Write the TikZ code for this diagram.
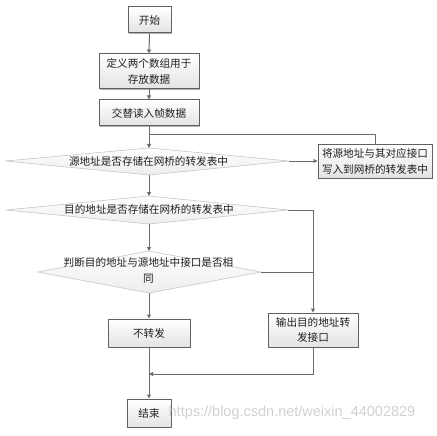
\documentclass[tikz,border=0pt]{standalone}
\usepackage{fontspec}
\newfontfamily\cjk{Noto Sans CJK SC}
\newfontfamily\wmfont{Liberation Sans}
\usetikzlibrary{arrows.meta,calc}
\begin{document}
\begin{tikzpicture}[x=1pt,y=1pt,
  every node/.style={font=\cjk\fontsize{10.6}{15.5}\selectfont, text=black!88, inner sep=0pt, align=center},
  procbox/.style={draw=black!62, line width=1pt, top color=white, bottom color=black!11,
     preaction={fill=black!30, transform canvas={xshift=1pt,yshift=-1pt}}},
  decshape/.style={draw=black!22, line width=0.6pt, top color=white, bottom color=black!7},
  conn/.style={draw=black!58, line width=1pt},
  arr/.style={conn, -{Triangle[length=4pt,width=4pt]}}
]
\useasboundingbox (0,0) rectangle (437,-436);
\fill[white] (0,0) rectangle (437,-436);

% process boxes
\node[procbox, minimum width=43pt, minimum height=26pt] (start) at (149.5,-20) {开始};
\node[procbox, minimum width=100pt, minimum height=35pt] (define) at (149,-71.5) {定义两个数组用于\\存放数据};
\node[procbox, minimum width=100pt, minimum height=26pt] (read) at (149,-113) {交替读入帧数据};
\node[procbox, minimum width=114pt, minimum height=33pt] (write) at (375,-161.5) {将源地址与其对应接口\\写入到网桥的转发表中};
\node[procbox, minimum width=82pt, minimum height=28pt] (nofwd) at (149,-333) {不转发};
\node[procbox, minimum width=90pt, minimum height=34pt] (out) at (313,-330) {输出目的地址转\\发接口};
\node[procbox, minimum width=44pt, minimum height=28pt] (end) at (149,-413) {结束};

% decision diamonds
\coordinate (d1L) at (5,-161);   \coordinate (d1T) at (149,-148);
\coordinate (d1R) at (289,-161); \coordinate (d1B) at (149,-175);
\coordinate (d2L) at (6,-210);   \coordinate (d2T) at (149,-196);
\coordinate (d2R) at (288,-210); \coordinate (d2B) at (149,-224);
\coordinate (d3L) at (38,-272);  \coordinate (d3T) at (149,-251);
\coordinate (d3R) at (261,-272); \coordinate (d3B) at (149,-293);
\path[decshape] (d1L) -- (d1T) -- (d1R) -- (d1B) -- cycle;
\path[decshape] (d2L) -- (d2T) -- (d2R) -- (d2B) -- cycle;
\path[decshape] (d3L) -- (d3T) -- (d3R) -- (d3B) -- cycle;
\node (d1) at (148.5,-161) {源地址是否存储在网桥的转发表中};
\node (d2) at (149,-209.5) {目的地址是否存储在网桥的转发表中};
\node (d3) at (148.5,-270.5) {判断目的地址与源地址中接口是否相\\同};

% connectors
\draw[arr] (start.south) -- (define.north);
\draw[arr] (define.south) -- (read.north);
\draw[arr] (read.south) -- (d1T);
\draw[conn] (read.south) -- ++(0,-8) -| (write.north);
\draw[arr] (d1R) -- (d1R -| write.west);
\draw[arr] (d1B) -- (d2T);
\draw[arr] (d2R) -| (out.north);
\draw[arr] (d2B) -- (d3T);
\draw[conn] (d3R) -- (d3R -| out.north);
\draw[arr] (d3B) -- (nofwd.north);
\draw[arr] (nofwd.south) -- (end.north);
\coordinate (j) at (149,-374);
\draw[arr] (out.south) |- (j);

% watermark
\node[font=\wmfont\fontsize{14.5}{16}\selectfont, text=black!18] (wm) at (292,-413) {https://blog.csdn.net/weixin\_44002829};
\end{tikzpicture}
\end{document}
